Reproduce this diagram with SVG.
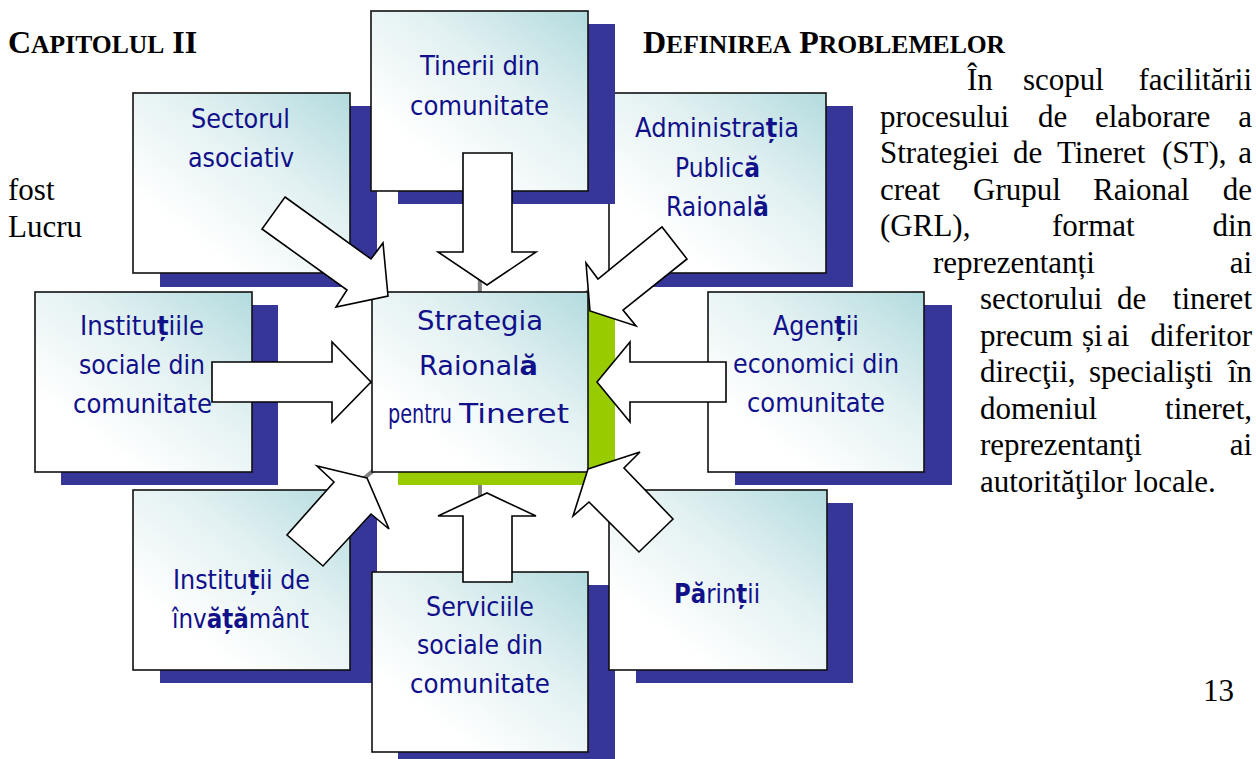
<svg xmlns="http://www.w3.org/2000/svg" width="1256" height="759" viewBox="0 0 1256 759">
<style>
.body{font-family:"Liberation Serif","Times New Roman",serif;font-size:31px;fill:#000}
.head{font-family:"Liberation Serif","Times New Roman",serif;font-weight:bold;fill:#000}
.lbl{font-family:"DejaVu Sans",Verdana,sans-serif;font-size:27px;fill:#10108a;text-anchor:middle}
.st{text-anchor:start}
.b{font-weight:bold}
.box{fill:url(#boxFill);stroke:#111;stroke-width:1.6}
.sh{fill:#363698}
.shg{fill:#99cc00}
.link{stroke:#808080;stroke-width:4;fill:none}
.arrow{fill:#fff;stroke:#000;stroke-width:1.6;stroke-linejoin:miter}
</style>
<defs>
<linearGradient id="boxFill" x1="1" y1="0" x2="0.25" y2="0.8">
<stop offset="0" stop-color="#b3dbde"/>
<stop offset="0.5" stop-color="#e3f1f2"/>
<stop offset="1" stop-color="#ffffff"/>
</linearGradient>
</defs>
<rect width="1256" height="759" fill="#fff"/>

<g id="page-text">
<text class="head" x="8" y="53" font-size="32">C<tspan font-size="25.6">APITOLUL</tspan> II</text>
<text class="head" x="643" y="53" font-size="32">D<tspan font-size="25.6">EFINIREA</tspan> P<tspan font-size="25.6">ROBLEMELOR</tspan></text>
<text class="body" x="8" y="200">fost</text>
<text class="body" x="8" y="237">Lucru</text>
<text class="body" x="967" y="90">În</text>
<text class="body" x="1023" y="90">scopul</text>
<text class="body" x="1252" y="90" text-anchor="end">facilitării</text>
<text class="body" x="880" y="126.5">procesului</text>
<text class="body" x="1038" y="126.5">de</text>
<text class="body" x="1095" y="126.5">elaborare</text>
<text class="body" x="1252" y="126.5" text-anchor="end">a</text>
<text class="body" x="880" y="163">Strategiei</text>
<text class="body" x="1013" y="163">de</text>
<text class="body" x="1057" y="163">Tineret</text>
<text class="body" x="1162" y="163">(ST),</text>
<text class="body" x="1252" y="163" text-anchor="end">a</text>
<text class="body" x="880" y="199.5">creat</text>
<text class="body" x="973" y="199.5">Grupul</text>
<text class="body" x="1093" y="199.5">Raional</text>
<text class="body" x="1252" y="199.5" text-anchor="end">de</text>
<text class="body" x="880" y="236">(GRL),</text>
<text class="body" x="1052" y="236">format</text>
<text class="body" x="1252" y="236" text-anchor="end">din</text>
<text class="body" x="933" y="272.5">reprezentanți</text>
<text class="body" x="1252" y="272.5" text-anchor="end">ai</text>
<text class="body" x="980" y="309">sectorului</text>
<text class="body" x="1117" y="309">de</text>
<text class="body" x="1252" y="309" text-anchor="end">tineret</text>
<text class="body" x="980" y="345.5">precum</text>
<text class="body" x="1082" y="345.5">și</text>
<text class="body" x="1107" y="345.5">ai</text>
<text class="body" x="1252" y="345.5" text-anchor="end">diferitor</text>
<text class="body" x="980" y="382">direcţii,</text>
<text class="body" x="1089" y="382">specialişti</text>
<text class="body" x="1252" y="382" text-anchor="end">în</text>
<text class="body" x="980" y="418.5">domeniul</text>
<text class="body" x="1252" y="418.5" text-anchor="end">tineret,</text>
<text class="body" x="980" y="455">reprezentanţi</text>
<text class="body" x="1252" y="455" text-anchor="end">ai</text>
<text class="body" x="980" y="491.5">autorităţilor locale.</text>
<text class="body" x="1203" y="701">13</text>
</g>

<g id="links">
<line class="link" x1="480" y1="382" x2="479.5" y2="101"/>
<line class="link" x1="480" y1="382" x2="480" y2="662"/>
<line class="link" x1="480" y1="382" x2="143.5" y2="382"/>
<line class="link" x1="480" y1="382" x2="816" y2="382"/>
<line class="link" x1="480" y1="382" x2="241.5" y2="183"/>
<line class="link" x1="480" y1="382" x2="717.5" y2="183"/>
<line class="link" x1="480" y1="382" x2="241.5" y2="580"/>
<line class="link" x1="480" y1="382" x2="718" y2="580"/>
</g>

<g id="sectorul">
<rect class="sh" x="160" y="106" width="217" height="181"/>
<rect class="box" x="133" y="93" width="217" height="180"/>
<text class="lbl" x="240.5" y="128" textLength="99" lengthAdjust="spacingAndGlyphs">Sectorul</text>
<text class="lbl" x="241" y="167" textLength="106" lengthAdjust="spacingAndGlyphs">asociativ</text>
</g>
<g id="administratia">
<rect class="sh" x="636" y="106" width="217" height="181"/>
<rect class="box" x="609" y="93" width="217" height="180"/>
<text class="lbl" x="717" y="137" textLength="164" lengthAdjust="spacingAndGlyphs">Administra<tspan class="b">ț</tspan>ia</text>
<text class="lbl" x="717.5" y="177" textLength="85" lengthAdjust="spacingAndGlyphs">Public<tspan class="b">ă</tspan></text>
<text class="lbl" x="717.5" y="216" textLength="103" lengthAdjust="spacingAndGlyphs">Raional<tspan class="b">ă</tspan></text>
</g>
<g id="tinerii">
<rect class="sh" x="398" y="24" width="217" height="180"/>
<rect class="box" x="371" y="11" width="217" height="180"/>
<text class="lbl" x="480" y="75" textLength="120" lengthAdjust="spacingAndGlyphs">Tinerii din</text>
<text class="lbl" x="479.5" y="115" textLength="139" lengthAdjust="spacingAndGlyphs">comunitate</text>
</g>
<g id="institutiile-sociale">
<rect class="sh" x="61" y="305" width="217" height="180"/>
<rect class="box" x="35" y="292" width="217" height="180"/>
<text class="lbl" x="142" y="335" textLength="124" lengthAdjust="spacingAndGlyphs">Institu<tspan class="b">ț</tspan>iile</text>
<text class="lbl" x="142" y="374" textLength="126" lengthAdjust="spacingAndGlyphs">sociale din</text>
<text class="lbl" x="142.5" y="413" textLength="139" lengthAdjust="spacingAndGlyphs">comunitate</text>
</g>
<g id="strategia">
<rect class="shg" x="398" y="305" width="217" height="180"/>
<rect class="box" x="372" y="292" width="216" height="180"/>
<text class="lbl" x="480" y="330" font-size="30" textLength="126" lengthAdjust="spacingAndGlyphs">Strategia</text>
<text class="lbl" x="478.5" y="375" font-size="30" textLength="119" lengthAdjust="spacingAndGlyphs">Raional<tspan class="b">ă</tspan></text>
<text class="lbl st" x="388" y="423" font-size="18" textLength="64" lengthAdjust="spacingAndGlyphs">pentru</text>
<text class="lbl st" x="459" y="423" font-size="34" textLength="110" lengthAdjust="spacingAndGlyphs">Tineret</text>
</g>
<g id="agentii">
<rect class="sh" x="735" y="305" width="217" height="180"/>
<rect class="box" x="708" y="292" width="216" height="180"/>
<text class="lbl" x="816" y="335" textLength="86" lengthAdjust="spacingAndGlyphs">Agen<tspan class="b">ț</tspan>ii</text>
<text class="lbl" x="816" y="373" textLength="166" lengthAdjust="spacingAndGlyphs">economici din</text>
<text class="lbl" x="816" y="412" textLength="138" lengthAdjust="spacingAndGlyphs">comunitate</text>
</g>
<g id="institutii-invatamant">
<rect class="sh" x="160" y="503" width="217" height="180"/>
<rect class="box" x="133" y="490" width="217" height="180"/>
<text class="lbl" x="241.5" y="589" textLength="137" lengthAdjust="spacingAndGlyphs">Institu<tspan class="b">ț</tspan>ii de</text>
<text class="lbl" x="240.5" y="628" textLength="137" lengthAdjust="spacingAndGlyphs">înv<tspan class="b">ăță</tspan>mânt</text>
</g>
<g id="servicii">
<rect class="sh" x="398" y="585" width="217" height="180"/>
<rect class="box" x="372" y="572" width="216" height="180"/>
<text class="lbl" x="480" y="616" textLength="108" lengthAdjust="spacingAndGlyphs">Serviciile</text>
<text class="lbl" x="480" y="654" textLength="126" lengthAdjust="spacingAndGlyphs">sociale din</text>
<text class="lbl" x="480" y="693" textLength="140" lengthAdjust="spacingAndGlyphs">comunitate</text>
</g>
<g id="parintii">
<rect class="sh" x="636" y="503" width="217" height="180"/>
<rect class="box" x="609" y="490" width="218" height="180"/>
<text class="lbl" x="717" y="603" textLength="86" lengthAdjust="spacingAndGlyphs"><tspan class="b">Pă</tspan>rin<tspan class="b">ț</tspan>ii</text>
</g>

<g id="connectors">
<polygon class="arrow" points="463,153 512,153 512,252 536,252 487,285 438,252 463,252"/>
<polygon class="arrow" points="463,582 512,582 512,516 536,516 487,493 438,516 463,516"/>
<polygon class="arrow" points="212,362 332,362 332,342 371,382 332,422 332,402 212,402"/>
<polygon class="arrow" points="726,362 630,362 630,342 597,382 630,422 630,402 726,402"/>
<polygon class="arrow" points="285,197 371,259 383,243 388,296 336,307 347,290 262,229"/>
<polygon class="arrow" points="590,311 586,263 598,279 662,227 687,259 623,310 636,326"/>
<polygon class="arrow" points="367,478 317,466 334,482 287,535 323,566 371,514 389,529"/>
<polygon class="arrow" points="588,469 640,452 624,468 673,519 639,552 589,502 573,516"/>
</g>
</svg>
